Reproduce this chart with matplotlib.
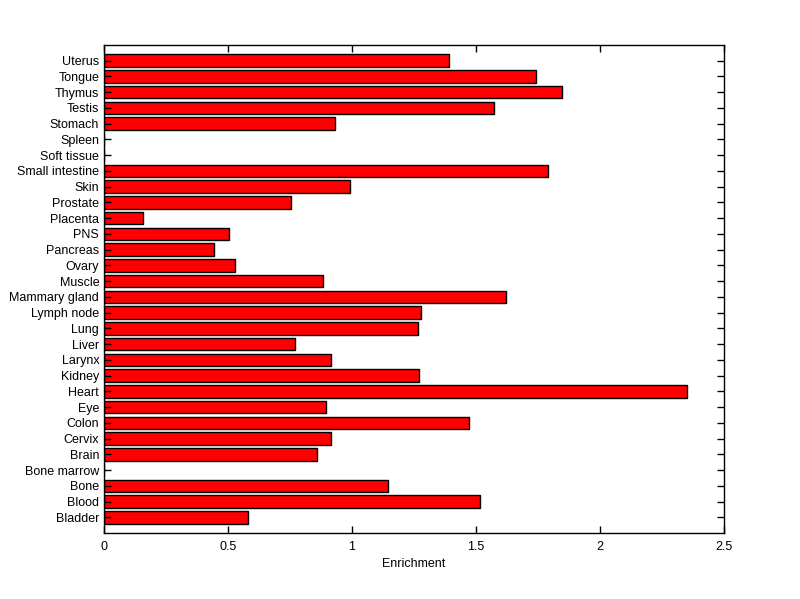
import numpy as np
import matplotlib
matplotlib.use("Agg")
import matplotlib.pyplot as plt

plt.rcParams['font.family'] = ['Liberation Sans', 'DejaVu Sans']

# tessuti, dal basso verso l'alto
tissues = ["Bladder", "Blood", "Bone", "Bone marrow", "Brain", "Cervix", "Colon",
           "Eye", "Heart", "Kidney", "Larynx", "Liver", "Lung", "Lymph node",
           "Mammary gland", "Muscle", "Ovary", "Pancreas", "PNS", "Placenta",
           "Prostate", "Skin", "Small intestine", "Soft tissue", "Spleen",
           "Stomach", "Testis", "Thymus", "Tongue", "Uterus"]
enrichment = [0.581, 1.516, 1.145, 0.0, 0.859, 0.915, 1.472,
              0.895, 2.351, 1.270, 0.915, 0.770, 1.266, 1.278,
              1.621, 0.883, 0.528, 0.444, 0.504, 0.157,
              0.754, 0.992, 1.790, 0.0, 0.0,
              0.931, 1.573, 1.847, 1.742, 1.391]
xticks = [0, 0.5, 1, 1.5, 2, 2.5]
xticklabels = ["0", "0.5", "1", "1.5", "2", "2.5"]

fig = plt.figure(figsize=(8, 5.99), dpi=100)
ax = fig.add_axes([0.13, 0.11, 0.775, 0.815])

pos = np.arange(1, len(tissues) + 1)
ax.barh(pos, enrichment, height=0.8, color='#ff0000', edgecolor='black', linewidth=1)

ax.set_xlim(0, 2.5)
ax.set_ylim(0, len(tissues) + 1)
ax.set_xticks(xticks)
ax.set_xticklabels(xticklabels)
ax.set_yticks(pos)
ax.set_yticklabels(tissues)
ax.tick_params(direction='in', top=True, right=True, length=5, width=1, labelsize=9)
ax.tick_params(axis='x', pad=6)
for s in ax.spines.values():
    s.set_linewidth(1)
ax.set_xlabel("Enrichment", fontsize=9, labelpad=3)

fig.savefig("out.png", dpi=100)
